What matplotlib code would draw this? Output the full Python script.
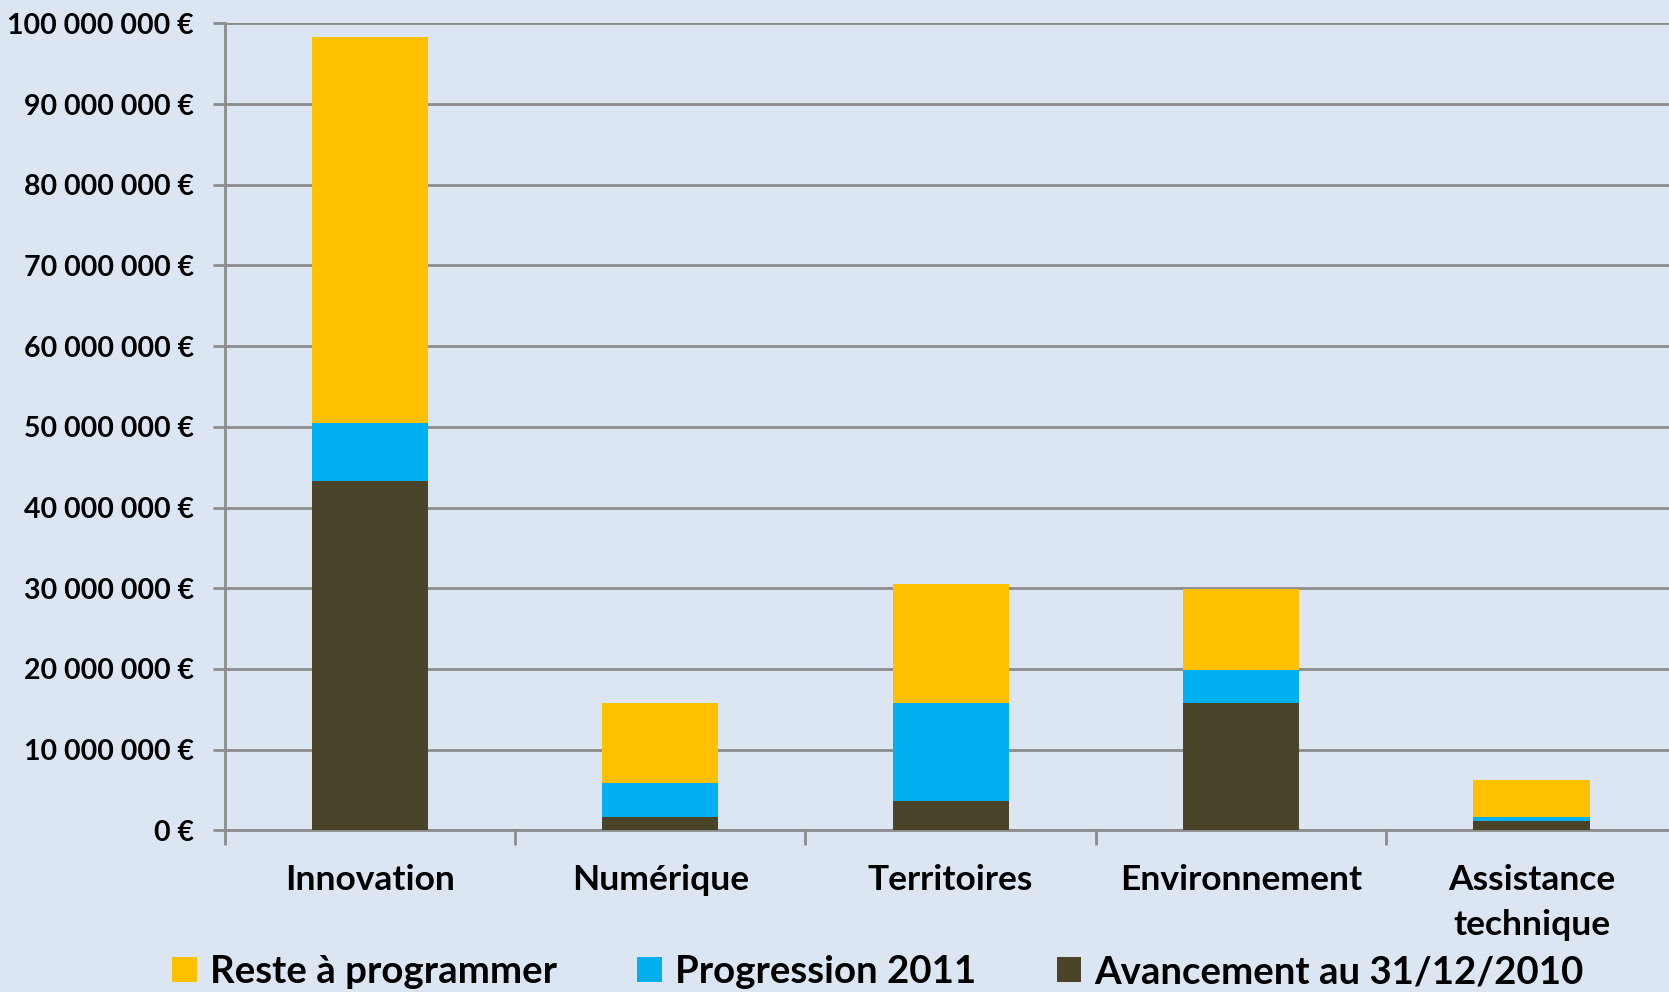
import matplotlib
matplotlib.use("Agg")
import matplotlib.pyplot as plt
import numpy as np
from matplotlib.ticker import FuncFormatter, FixedLocator

plt.rcParams['font.family'] = ['Lato', 'DejaVu Sans']
plt.rcParams['font.weight'] = 'bold'

# Axes prioritaires et montants (euros)
categories = ['Innovation', 'Numérique', 'Territoires', 'Environnement', 'Assistance\ntechnique']
avancement_2010 = [43.3e6, 1.7e6, 3.6e6, 15.8e6, 1.2e6]
progression_2011 = [7.2e6, 4.2e6, 12.2e6, 4.1e6, 0.4e6]
reste_a_programmer = [47.8e6, 9.9e6, 14.7e6, 10.0e6, 4.6e6]

bg = '#dce6f2'
grid_col = '#8c8c8c'

fig = plt.figure(figsize=(16.69, 9.92), dpi=100, facecolor=bg)
ax = fig.add_axes([0.1346, 0.163, 0.870, 0.8134], facecolor=bg)

x = np.arange(len(categories))
w = 0.4
b1 = ax.bar(x, avancement_2010, w, color='#4a452a', label='Avancement au 31/12/2010', zorder=3)
bottom2 = np.array(avancement_2010)
b2 = ax.bar(x, progression_2011, w, bottom=bottom2, color='#00b0f0', label='Progression 2011', zorder=3)
bottom3 = bottom2 + np.array(progression_2011)
b3 = ax.bar(x, reste_a_programmer, w, bottom=bottom3, color='#ffc000', label='Reste à programmer', zorder=3)

ax.set_xlim(-0.5, len(categories) - 0.5)
ax.set_ylim(0, 100e6)
ax.set_yticks(np.arange(0, 100e6 + 1, 10e6))
ax.yaxis.set_major_formatter(FuncFormatter(lambda v, p: f"{int(v):,}".replace(",", " ") + " €"))
ax.grid(axis='y', color=grid_col, linewidth=2, zorder=0)

ax.set_xticks(x)
ax.set_xticklabels(categories, fontsize=25.5, fontweight='bold', linespacing=1.5)
ax.xaxis.set_minor_locator(FixedLocator(np.arange(-0.5, len(categories), 1)))
ax.tick_params(axis='x', which='major', length=0, pad=24)
ax.tick_params(axis='x', which='minor', length=11, width=2, color=grid_col)
ax.tick_params(axis='y', length=9, width=2, color=grid_col, labelsize=20.5, pad=13)
for lab in ax.get_yticklabels():
    lab.set_fontweight('bold')

for s in ['top', 'right']:
    ax.spines[s].set_visible(False)
for s in ['left', 'bottom']:
    ax.spines[s].set_color(grid_col)
    ax.spines[s].set_linewidth(2)

fig.legend(handles=[b3, b2, b1], loc='center', bbox_to_anchor=(0.526, 0.02), ncol=3,
           frameon=False, handlelength=0.65, handleheight=0.65,
           handletextpad=0.33, columnspacing=2.1, prop={'weight': 'bold', 'size': 27.6})

fig.savefig('out.png', dpi=100, facecolor=bg)
